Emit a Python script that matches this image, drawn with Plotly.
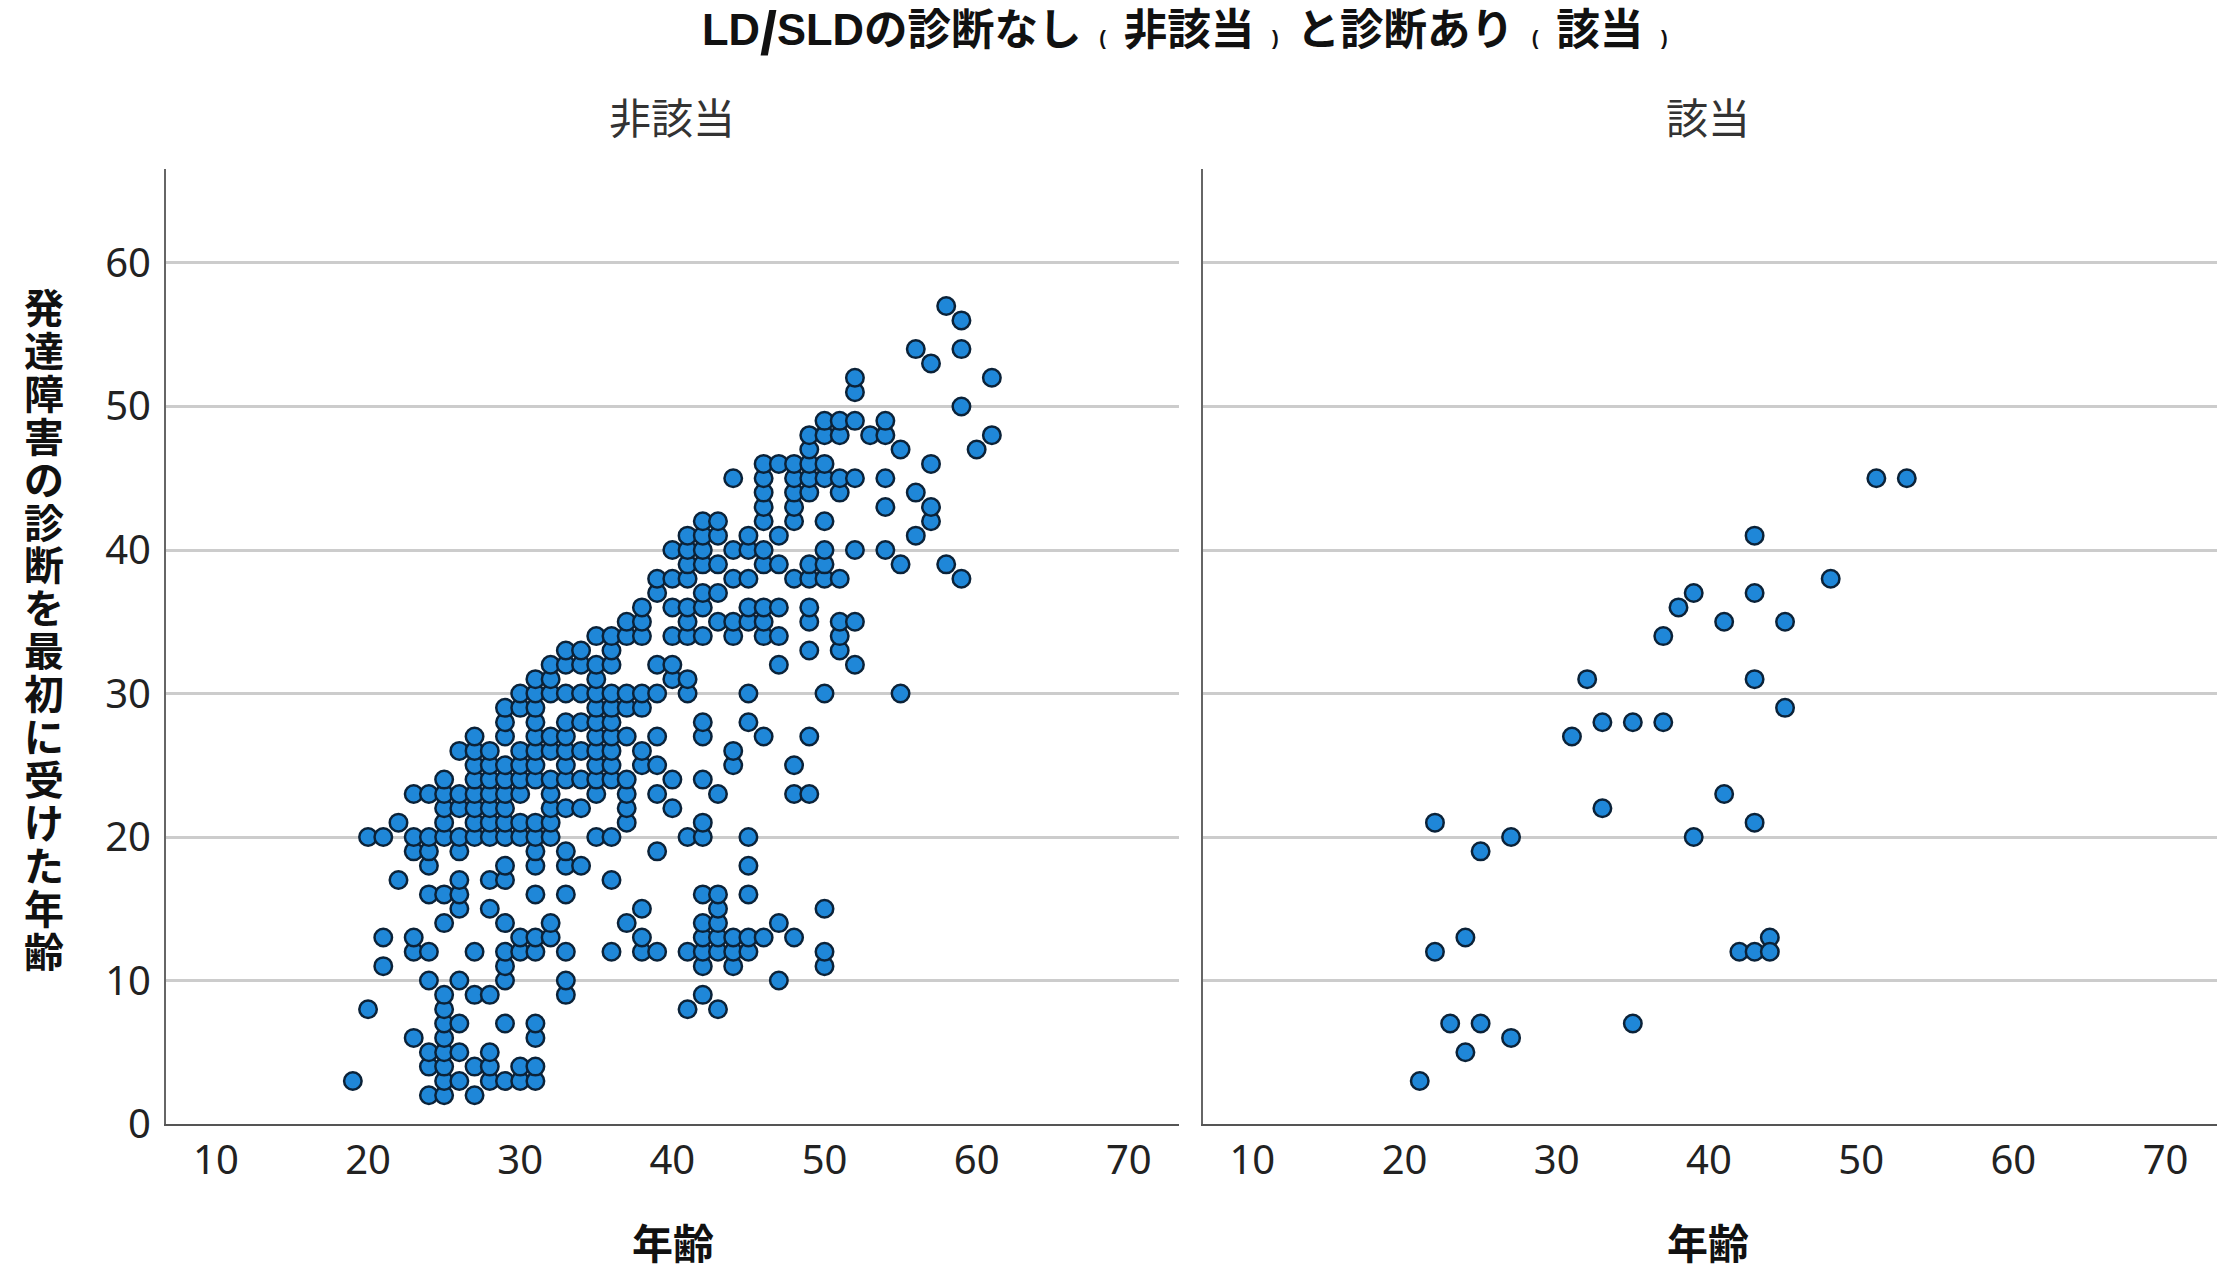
import plotly.graph_objects as go

W, H = 2224, 1269
CJK = "Liberation Sans, Noto Sans CJK JP"
TICKFONT = "Noto Sans"

onset_levels = [2,3,4,5,6,7,8,9,10,11,12,13,14,15,16,17,18,19,20,21,22,23,24,25,26,27,28,29,30,31,32,33,34,35,36,37,38,39,40,41,42,43,44,45,46,47,48,49,50,51,52,53,54,56,57]

ages_02 = [24,25,27]
ages_03 = [19,25,26,28,29,30,31]
ages_04 = [24,25,27,28,30,31]
ages_05 = [24,25,26,28]
ages_06 = [23,25,31]
ages_07 = [25,26,29,31]
ages_08 = [20,25,41,43]
ages_09 = [25,27,28,33,42]
ages_10 = [24,26,29,33,47]
ages_11 = [21,29,42,44,50]
ages_12 = [23,24,27,29,30,31,33,36,38,39,41,42,43,44,45,50]
ages_13 = [21,23,30,31,32,38,42,43,44,45,46,48]
ages_14 = [25,29,32,37,42,43,47]
ages_15 = [26,28,38,43,50]
ages_16 = [24,25,26,31,33,42,43,45]
ages_17 = [22,26,28,29,36]
ages_18 = [24,29,31,33,34,45]
ages_19 = [23,24,26,31,33,39]
ages_20 = [20,21,23,24,25,26,27,28,29,30,31,32,35,36,41,42,45]
ages_21 = [22,25,27,28,29,30,31,32,37,42]
ages_22 = [25,26,27,28,29,32,33,34,37,40]
ages_23 = [23,24,25,26,27,28,29,30,32,35,37,39,43,48,49]
ages_24 = [25,27,28,29,30,31,32,33,34,35,36,37,40,42]
ages_25 = [27,28,29,30,31,33,35,36,38,39,44,48]
ages_26 = [26,27,28,30,31,32,33,34,35,36,38,44]
ages_27 = [27,29,31,32,33,35,36,37,39,42,46,49]
ages_28 = [29,31,33,34,35,36,42,45]
ages_29 = [29,30,31,35,36,37,38]
ages_30 = [30,31,32,33,34,35,36,37,38,39,41,45,50,55]
ages_31 = [31,32,35,40,41]
ages_32 = [32,33,34,35,36,39,40,47,52]
ages_33 = [33,34,36,49,51]
ages_34 = [35,36,37,38,40,41,42,44,46,47,51]
ages_35 = [37,38,41,43,44,45,46,49,51,52]
ages_36 = [38,40,41,42,45,46,47,49]
ages_37 = [39,42,43]
ages_38 = [39,40,41,44,45,48,49,50,51,59]
ages_39 = [41,42,43,46,47,49,50,55,58]
ages_40 = [40,41,42,44,45,46,50,52,54]
ages_41 = [41,42,43,45,47,56]
ages_42 = [42,43,46,48,50,57]
ages_43 = [46,48,54,57]
ages_44 = [46,48,49,51,56]
ages_45 = [44,46,48,49,50,51,52,54]
ages_46 = [46,47,48,49,50,57]
ages_47 = [49,55,60]
ages_48 = [49,50,51,53,54,61]
ages_49 = [50,51,52,54]
ages_50 = [59]
ages_51 = [52]
ages_52 = [52,61]
ages_53 = [57]
ages_54 = [56,59]
ages_56 = [59]
ages_57 = [58]

g = globals()
non_x, non_y = [], []
for lv in onset_levels:
    for a in g[f"ages_{lv:02d}"]:
        non_x.append(a)
        non_y.append(lv)

yes_x = [53,51,43,48,39,43,38,37,41,45,32,43,45,33,35,37,31,41,33,22,43,27,39,25,24,44,22,42,43,44,23,25,35,27,24,21]
yes_y = [45,45,41,38,37,37,36,34,35,35,31,31,29,28,28,28,27,23,22,21,21,20,20,19,13,13,12,12,12,12,7,7,7,6,5,3]

x_ticks = [10,20,30,40,50,60,70]
y_ticks = [0,10,20,30,40,50,60]
panel_titles = ["非該当", "該当"]
x_title = "年齢"
y_title = "発達障害の診断を最初に受けた年齢"

def px(v): return v / W
def py(v): return 1 - v / H

sp = '<span style="font-size:32px">\u00a0\u00a0</span>'
lp = f'{sp}<span style="font-size:20px">(</span>{sp}'
rp = f'{sp}<span style="font-size:20px">)</span>{sp}'
slash = '<sub><span style="font-size:61px">/</span></sub>'
main_title = f"<b>LD{slash}SLDの診断なし{lp}非該当{rp}と診断あり{lp}該当{sp}<span style=\"font-size:20px\">)</span></b>"

marker = dict(size=17.5, color="#1f87d8", line=dict(color="#0b2238", width=2.5), opacity=1)

fig = go.Figure()
fig.add_trace(go.Scatter(x=non_x, y=non_y, mode="markers", marker=marker, xaxis="x", yaxis="y", showlegend=False))
fig.add_trace(go.Scatter(x=yes_x, y=yes_y, mode="markers", marker=marker, xaxis="x2", yaxis="y2", showlegend=False))

def xax(dom, rng, anchor):
    return dict(domain=[px(dom[0]), px(dom[1])], range=rng, anchor=anchor, tickmode="array", tickvals=x_ticks,
                automargin=False, showgrid=False, zeroline=False, showline=True, linecolor="#555555", linewidth=2,
                ticks="", ticklen=0, ticklabelstandoff=0, tickfont=dict(family=TICKFONT, size=40, color="#222222"))

def yax(anchor, labels):
    return dict(domain=[py(1124), py(169)], range=[0, 66.55], anchor=anchor, tickmode="array", tickvals=y_ticks,
                automargin=False, showticklabels=labels, showgrid=True, gridcolor="#cccccc", gridwidth=3, zeroline=False,
                showline=True, linecolor="#666666", linewidth=2, ticks="", ticklen=0, ticklabelstandoff=5,
                tickfont=dict(family=TICKFONT, size=40, color="#222222"))

vertical = "<br>".join(f'<b><span style="font-size:40px">{c}</span></b>' for c in y_title)

def note(text, x, y, size, color, **kw):
    return dict(text=text, x=px(x), y=py(y), xref="paper", yref="paper", showarrow=False,
                xanchor="center", yanchor="middle", font=dict(family=CJK, size=size, color=color), **kw)

fig.update_layout(
    width=W, height=H, margin=dict(l=0, r=0, t=0, b=0),
    paper_bgcolor="white", plot_bgcolor="white",
    xaxis=xax((166, 1179), [6.72, 73.3], "y"),
    yaxis=yax("x", True),
    xaxis2=xax((1203, 2217), [6.76, 73.38], "y2"),
    yaxis2=yax("x2", False),
    annotations=[
        note(main_title, 1185, 33, 43.5, "#111111"),
        note(panel_titles[0], 672, 119, 42, "#333333"),
        note(panel_titles[1], 1708, 119, 42, "#333333"),
        note(f"<b>{x_title}</b>", 673, 1245, 41, "#111111"),
        note(f"<b>{x_title}</b>", 1708, 1245, 41, "#111111"),
        note(vertical, 44, 631, 33, "#111111", align="center"),
    ],
)
fig.write_html("out.html", config={"displayModeBar": False},
               post_script="document.body.style.margin='0';document.documentElement.style.overflow='hidden';")
